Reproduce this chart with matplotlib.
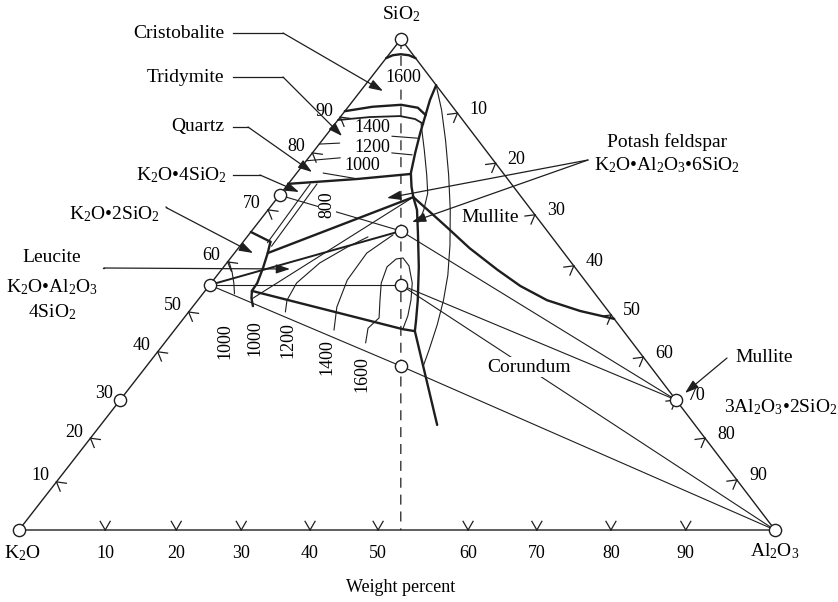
import numpy as np
import matplotlib.pyplot as plt

plt.rcParams['font.family'] = 'Liberation Serif'
plt.rcParams['mathtext.fontset'] = 'custom'
plt.rcParams['mathtext.rm'] = 'Liberation Serif'
plt.rcParams['mathtext.it'] = 'Liberation Serif:italic'

INK = '#1e1e1e'

# composition points are (Al2O3, SiO2) in weight percent, K2O is the rest
# --- compounds (open circles)
comp_al = [0, 100, 0, 0, 0, 0, 19.75, 25.3, 33.6, 73.5]
comp_si = [100, 0, 0, 68.2, 49.9, 26.5, 60.9, 49.9, 33.4, 26.5]

# --- side scales
scale_labels = ['10', '20', '30', '40', '50', '60', '70', '80', '90']
base_ticks = [11.4, 20.8, 29.4, 38.5, 47.5, 59.4, 68.5, 78.3, 88.2]    # Al2O3 on K2O-Al2O3 side
left_ticks = [9.8, 18.7, 26.5, 36.3, 44.4, 54.6, 65.2, 76.8, 84.1]     # SiO2 on K2O-SiO2 side
right_ticks = [15.1, 25.3, 35.8, 46.2, 56.2, 64.8, 73.5, 81.3, 89.8]   # Al2O3 on SiO2-Al2O3 side

# K2O/Al2O3 = 1 join (dashed)
join_al = [0, 50.5]
join_si = [100, 0]

# --- field boundaries (heavy lines)
cap_al = [0.0, 0.6, 1.5, 2.7, 3.9]
cap_si = [96.1, 96.7, 96.9, 96.7, 96.1]
crist_al = [0.0, 3.2, 6.8, 9.3, 11.1]
crist_si = [85.3, 86.2, 86.6, 86.0, 84.5]
trid_al = [0.0, 3.9, 7.8, 10.1, 11.7]
trid_si = [83.5, 84.1, 84.3, 83.7, 82.7]
silica_mullite_al = [9.4, 10.1, 11.2, 12.2, 13.6, 15.1, 16.6, 17.9]
silica_mullite_si = [90.6, 87.6, 84.1, 80.9, 76.8, 72.7, 69.9, 67.8]
leucite_mullite_al = [17.9, 19.7, 22.2, 25.8, 29.1, 30.9, 31.9, 44.5]
leucite_mullite_si = [67.8, 65.2, 60.5, 53.6, 46.8, 42.8, 40.5, 21.4]
feldspar_mullite_al = [17.9, 21.6, 25.4, 30.6, 36.5, 41.2, 46.2, 51.7, 57.0]
feldspar_mullite_si = [67.8, 64.8, 61.7, 57.4, 53.0, 49.7, 46.8, 44.6, 43.0]
quartz_k4s_al = [0.0, 8.7, 15.1]
quartz_k4s_si = [70.5, 71.5, 72.5]
k2s_k4s_al = [0.0, 3.6]
k2s_k4s_si = [60.7, 58.7]
k2s_leucite_al = [3.6, 4.4, 5.3, 6.1, 6.2, 6.9, 7.9]
k2s_leucite_si = [58.7, 56.4, 53.4, 50.3, 48.7, 47.2, 45.6]
feldspar_leucite_al = [4.4, 17.9]
feldspar_leucite_si = [56.4, 67.8]
kalsilite_leucite_al = [6.2, 30.1, 31.9]
kalsilite_leucite_si = [48.7, 40.9, 40.5]

# --- light boundaries and isotherms
k4s_strip1_al, k4s_strip1_si = [2.9, 3.3], [70.5, 58.5]
k4s_strip2_al, k4s_strip2_si = [3.8, 4.2], [70.5, 57.8]
lower_join_al, lower_join_si = [7.0, 17.9], [47.05, 67.8]
mullite_iso_al = [9.4, 12.7, 16.3, 20.3, 24.1, 27.7, 30.5, 32.5, 34.2, 35.7, 36.6]
mullite_iso_si = [90.6, 85.5, 79.4, 72.3, 65.2, 58.0, 51.9, 46.8, 41.8, 36.7, 33.4]
inner_iso_al = [11.4, 14.5, 17.4, 19.4, 20.6, 21.2]
inner_iso_si = [82.7, 77.4, 72.3, 68.6, 65.2, 62.7]
iso1000_k2s_al = [0.2, 1.6, 3.0, 4.2]
iso1000_k2s_si = [54.6, 52.6, 50.3, 48.1]
iso1200_al = [16.0, 14.3, 12.3, 11.3, 11.8, 12.8]
iso1200_si = [59.7, 57.6, 54.4, 50.3, 46.8, 44.4]
iso1400_al = [19.1, 17.5, 17.7, 19.1, 21.1]
iso1400_si = [60.1, 56.4, 50.9, 45.4, 40.7]
iso1600_al = [26.6, 25.4, 25.8, 24.1, 22.5, 21.6, 22.0, 22.8, 24.4, 26.6, 28.2, 29.4, 30.1]
iso1600_si = [38.1, 41.1, 43.2, 46.8, 50.3, 53.6, 55.2, 55.4, 53.8, 50.3, 46.8, 43.6, 40.9]
q_iso = [
    ([0.0, 4.2], [75.2, 75.8]),
    ([3.5, 8.7], [72.7, 71.5]),
    ([0.0, 2.6], [78.6, 78.8]),
    ([10.5, 13.4], [76.8, 76.4]),
    ([8.8, 12.4], [80.2, 79.8]),
]

# --- tie lines between compounds
ties = [
    ([0, 19.75], [68.2, 60.9]),
    ([0, 25.3], [49.9, 49.9]),
    ([0, 33.6], [49.9, 33.4]),
    ([19.75, 73.5], [60.9, 26.5]),
    ([25.3, 73.5], [49.9, 26.5]),
    ([25.3, 100], [49.9, 0]),
    ([33.6, 100], [33.4, 0]),
]
tie_heavy_al, tie_heavy_si = [0, 19.75], [49.9, 60.9]

# canvas geometry of the triangle
X0, Y0 = 19, 530
W, H, XS = 756, 491, 382


def tern(al, si):
    al = np.asarray(al, float)
    si = np.asarray(si, float)
    return X0 + W * al / 100 + XS * si / 100, Y0 - H * si / 100


fig = plt.figure(figsize=(8.38, 6.02), dpi=100)
ax = fig.add_axes([0, 0, 1, 1])
ax.set_xlim(0, 838)
ax.set_ylim(602, 0)
ax.axis('off')


def line(al, si, lw=0.8, **kw):
    x, y = tern(al, si)
    ax.plot(x, y, color=INK, lw=lw, solid_capstyle='round', solid_joinstyle='round', **kw)


# triangle
line([0, 100, 0, 0], [0, 0, 100, 0], lw=1.0)
line(join_al, join_si, lw=0.9, dashes=[8, 5.5])

heavy = [(cap_al, cap_si), (crist_al, crist_si), (silica_mullite_al, silica_mullite_si),
         (leucite_mullite_al, leucite_mullite_si), (feldspar_mullite_al, feldspar_mullite_si),
         (quartz_k4s_al, quartz_k4s_si), (k2s_k4s_al, k2s_k4s_si),
         (k2s_leucite_al, k2s_leucite_si), (feldspar_leucite_al, feldspar_leucite_si),
         (kalsilite_leucite_al, kalsilite_leucite_si)]
for a, s in heavy:
    line(a, s, lw=1.7)
line(trid_al, trid_si, lw=1.3)
line(tie_heavy_al, tie_heavy_si, lw=1.4)

for a, s in [(k4s_strip1_al, k4s_strip1_si), (k4s_strip2_al, k4s_strip2_si),
             (lower_join_al, lower_join_si), (mullite_iso_al, mullite_iso_si),
             (inner_iso_al, inner_iso_si), (iso1000_k2s_al, iso1000_k2s_si),
             (iso1200_al, iso1200_si), (iso1400_al, iso1400_si), (iso1600_al, iso1600_si)]:
    line(a, s, lw=0.8)
for a, s in q_iso:
    line(a, s, lw=0.8)
for a, s in ties:
    line(a, s, lw=0.8)

# chevron ticks on the three sides
corners = {'K': np.array(tern(0, 0)), 'A': np.array(tern(100, 0)), 'S': np.array(tern(0, 100))}
centre = (corners['K'] + corners['A'] + corners['S']) / 3


def chevron(p, d):
    n = np.array([-d[1], d[0]])
    if np.dot(centre - p, n) < 0:
        n = -n
    for ang in (np.radians(30), -np.radians(30)):
        c, s = np.cos(ang), np.sin(ang)
        arm = np.array([c * n[0] - s * n[1], s * n[0] + c * n[1]]) * 10
        ax.plot([p[0], p[0] + arm[0]], [p[1], p[1] + arm[1]], color=INK, lw=0.9)


def unit(v):
    return v / np.hypot(*v)


d_base = unit(corners['A'] - corners['K'])
d_left = unit(corners['S'] - corners['K'])
d_right = unit(corners['A'] - corners['S'])
for lab, t in zip(scale_labels, base_ticks):
    p = np.array(tern(t, 0))
    chevron(p, d_base)
    ax.text(p[0], p[1] + 23, lab, ha='center', va='center', fontsize=13)
for lab, t in zip(scale_labels, left_ticks):
    p = np.array(tern(0, t))
    if lab != '30':
        chevron(p, d_left)
    ax.text(p[0] - 16, p[1] - 6, lab, ha='center', va='center', fontsize=13)
for lab, t in zip(scale_labels, right_ticks):
    p = np.array(tern(t, 100 - t))
    chevron(p, d_right)
    ax.text(p[0] + 21, p[1] - 4, lab, ha='center', va='center', fontsize=13)

cx, cy = tern(comp_al, comp_si)
ax.plot(cx, cy, 'o', ms=8.8, mfc='white', mec=INK, mew=1.0, zorder=6)

# corner names
ax.text(401, 14, 'SiO$_2$', ha='center', va='center', fontsize=14)
ax.text(22, 553, 'K$_2$O', ha='center', va='center', fontsize=14)
ax.text(775, 551, 'Al$_2$O$_3$', ha='center', va='center', fontsize=14)
ax.text(401, 588, 'Weight percent', ha='center', va='center', fontsize=13)

# isotherm labels
ax.text(403, 78, '1600', ha='center', va='center', fontsize=13,
        bbox=dict(fc='white', ec='none', pad=0.5), zorder=4)
for txt, x, y in [('1400', 372, 128), ('1200', 372, 147), ('1000', 362, 166)]:
    ax.text(x, y, txt, ha='center', va='center', fontsize=13)
for txt, x, y in [('1000', 225, 341), ('1000', 255, 338), ('1200', 288, 340),
                  ('1400', 327, 357), ('1600', 362, 374)]:
    ax.text(x, y, txt, ha='center', va='center', fontsize=13, rotation=90)
ax.text(327, 205, '800', ha='center', va='center', fontsize=13, rotation=90,
        bbox=dict(fc='white', ec='none', pad=0.5), zorder=4)

# phase names with leaders
AP = dict(arrowstyle='-|>,head_length=0.6,head_width=0.2', color=INK, lw=0.9,
          mutation_scale=14, shrinkA=0, shrinkB=0)


def leader(pts, tip):
    xs, ys = zip(*pts)
    ax.plot(xs, ys, color=INK, lw=0.9)
    ax.annotate('', xy=tip, xytext=pts[-1], arrowprops=AP)


ax.text(224, 33, 'Cristobalite', ha='right', va='center', fontsize=14)
leader([(233, 33), (283, 33)], (383, 91))
ax.text(224, 77, 'Tridymite', ha='right', va='center', fontsize=14)
leader([(233, 77), (283, 77)], (342, 136))
ax.text(224, 127, 'Quartz', ha='right', va='center', fontsize=14)
leader([(233, 127), (248, 127)], (312, 172))
ax.text(227, 175, 'K$_2$O\u20224SiO$_2$', ha='right', va='center', fontsize=14)
leader([(233, 175), (260, 175)], (299, 192))
ax.text(160, 214, 'K$_2$O\u20222SiO$_2$', ha='right', va='center', fontsize=14)
leader([(166, 207), (167, 208)], (253, 253))

ax.text(52, 258, 'Leucite', ha='center', va='center', fontsize=14)
ax.text(52, 287, 'K$_2$O\u2022Al$_2$O$_3$', ha='center', va='center', fontsize=14)
ax.text(52, 312, '4SiO$_2$', ha='center', va='center', fontsize=14)
leader([(103, 268), (104, 268)], (290, 269))

ax.text(667, 142, 'Potash feldspar', ha='center', va='center', fontsize=14)
ax.text(667, 165, 'K$_2$O\u2022Al$_2$O$_3$\u20226SiO$_2$', ha='center', va='center', fontsize=14)
ax.annotate('', xy=(387, 198), xytext=(588, 160), arrowprops=AP)
ax.annotate('', xy=(412, 222), xytext=(588, 160), arrowprops=AP)

ax.text(490, 217, 'Mullite', ha='center', va='center', fontsize=14)
ax.text(764, 358, 'Mullite', ha='center', va='center', fontsize=14)
ax.annotate('', xy=(685, 393), xytext=(727, 358), arrowprops=AP)
ax.text(781, 407, '3Al$_2$O$_3$\u20222SiO$_2$', ha='center', va='center', fontsize=14)
ax.text(529, 367, 'Corundum', ha='center', va='center', fontsize=14,
        bbox=dict(fc='white', ec='none', pad=1), zorder=4)

fig.savefig('out.png', dpi=100)
